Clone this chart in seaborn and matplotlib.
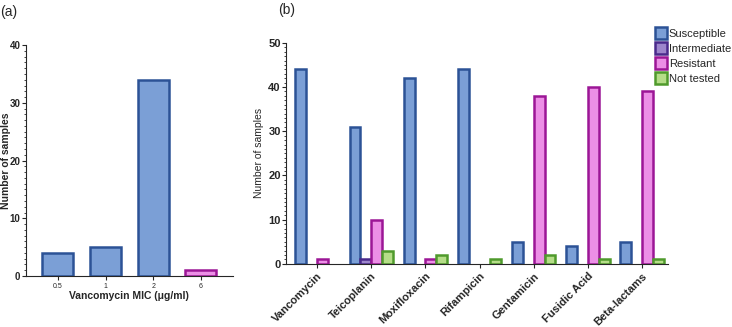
import pandas as pd
import matplotlib
import matplotlib.pyplot as plt
import seaborn as sns
from matplotlib.ticker import MultipleLocator
from matplotlib.lines import Line2D

matplotlib.use('Agg')

# Data: panel (a) Vancomycin MIC distribution
mic_labels = ['0.5', '1', '2', '6']
mic_counts = [4, 5, 34, 1]

# Data: panel (b) susceptibility per antibiotic
drugs = ['Vancomycin', 'Teicoplanin', 'Moxifloxacin', 'Rifampicin',
         'Gentamicin', 'Fusidic Acid', 'Beta-lactams']
results = ['Susceptible', 'Intermediate', 'Resistant', 'Not tested']
susceptible = [44, 31, 42, 44, 5, 4, 5]
intermediate = [0, 1, 0, 0, 0, 0, 0]
resistant = [1, 10, 1, 0, 38, 40, 39]
not_tested = [0, 3, 2, 1, 2, 1, 1]

fills = ['#7b9fd6', '#9d86cc', '#ec8fe6', '#b5dd88']
edges = ['#2c5296', '#4a2a8c', '#9c1696', '#4f9a2c']

sns.set_style('ticks')
plt.rcParams['font.family'] = ['Liberation Sans', 'DejaVu Sans']

fig = plt.figure(figsize=(7.32, 3.27), dpi=100)
ax1 = fig.add_axes([0.0355, 0.156, 0.2825, 0.706])
ax2 = fig.add_axes([0.391, 0.193, 0.5216, 0.676])

# Panel (a)
mic_df = pd.DataFrame({'mic': mic_labels, 'count': mic_counts})
mic_fill = [fills[0], fills[0], fills[0], fills[2]]
mic_edge = [edges[0], edges[0], edges[0], edges[2]]
sns.barplot(data=mic_df, x='mic', y='count', hue='mic', palette=mic_fill,
            legend=False, width=0.65, ax=ax1, saturation=1)
for p, ec in zip(ax1.patches, mic_edge):
    p.set_edgecolor(ec)
    p.set_linewidth(1.8)
ax1.set_xlim(-0.67, 3.67)
ax1.set_ylim(0, 40)
ax1.yaxis.set_major_locator(MultipleLocator(10))
ax1.yaxis.set_minor_locator(MultipleLocator(1))
ax1.set_xlabel('Vancomycin MIC (\u03bcg/ml)', fontsize=7.5, fontweight='bold', labelpad=1)
ax1.set_ylabel('Number of samples', fontsize=7.5, fontweight='bold')
ax1.yaxis.set_label_coords(-0.074, 0.5)
ax1.tick_params(axis='x', labelsize=5, width=0.8, length=3, pad=2)
ax1.tick_params(axis='y', labelsize=7, width=0.8, length=3, pad=1)
ax1.tick_params(axis='y', which='minor', width=0.6, length=1.5)
for lab in ax1.get_yticklabels():
    lab.set_fontweight('bold')
sns.despine(ax=ax1)

# Panel (b)
res_df = pd.DataFrame({
    'drug': drugs * 4,
    'result': sum([[r] * len(drugs) for r in results], []),
    'count': susceptible + intermediate + resistant + not_tested,
})
sns.barplot(data=res_df, x='drug', y='count', hue='result', hue_order=results,
            palette=fills, width=0.8, ax=ax2, saturation=1, legend=False)
for cont, ec in zip(ax2.containers, edges):
    for p in cont.patches:
        p.set_edgecolor(ec)
        p.set_linewidth(1.8)
        if p.get_height() == 0:
            p.set_visible(False)
ax2.set_xlim(-0.57, 6.48)
ax2.set_ylim(0, 50)
ax2.yaxis.set_major_locator(MultipleLocator(10))
ax2.yaxis.set_minor_locator(MultipleLocator(1))
ax2.set_xlabel('')
ax2.set_ylabel('Number of samples', fontsize=7.5, labelpad=3)
ax2.tick_params(axis='x', labelsize=8, width=0.8, length=3, pad=2)
ax2.tick_params(axis='y', labelsize=8, width=0.8, length=3, pad=1)
ax2.tick_params(axis='y', which='minor', width=0.6, length=1.5)
plt.setp(ax2.get_xticklabels(), rotation=45, ha='right', rotation_mode='anchor',
         fontweight='bold')
for lab in ax2.get_yticklabels():
    lab.set_fontweight('bold')
sns.despine(ax=ax2)

handles = [Line2D([], [], linestyle='none', marker='s', markersize=8.5,
                  markerfacecolor=f, markeredgecolor=e, markeredgewidth=1.8)
           for f, e in zip(fills, edges)]
fig.legend(handles, results, loc='upper left', bbox_to_anchor=(0.89, 0.925),
           frameon=False, fontsize=8, handletextpad=0.15, labelspacing=0.45,
           borderaxespad=0, handlelength=1)

fig.text(0.0, 0.985, '(a)', fontsize=10, va='top')
fig.text(0.38, 0.99, '(b)', fontsize=10, va='top')

fig.savefig('out.png', dpi=100)
